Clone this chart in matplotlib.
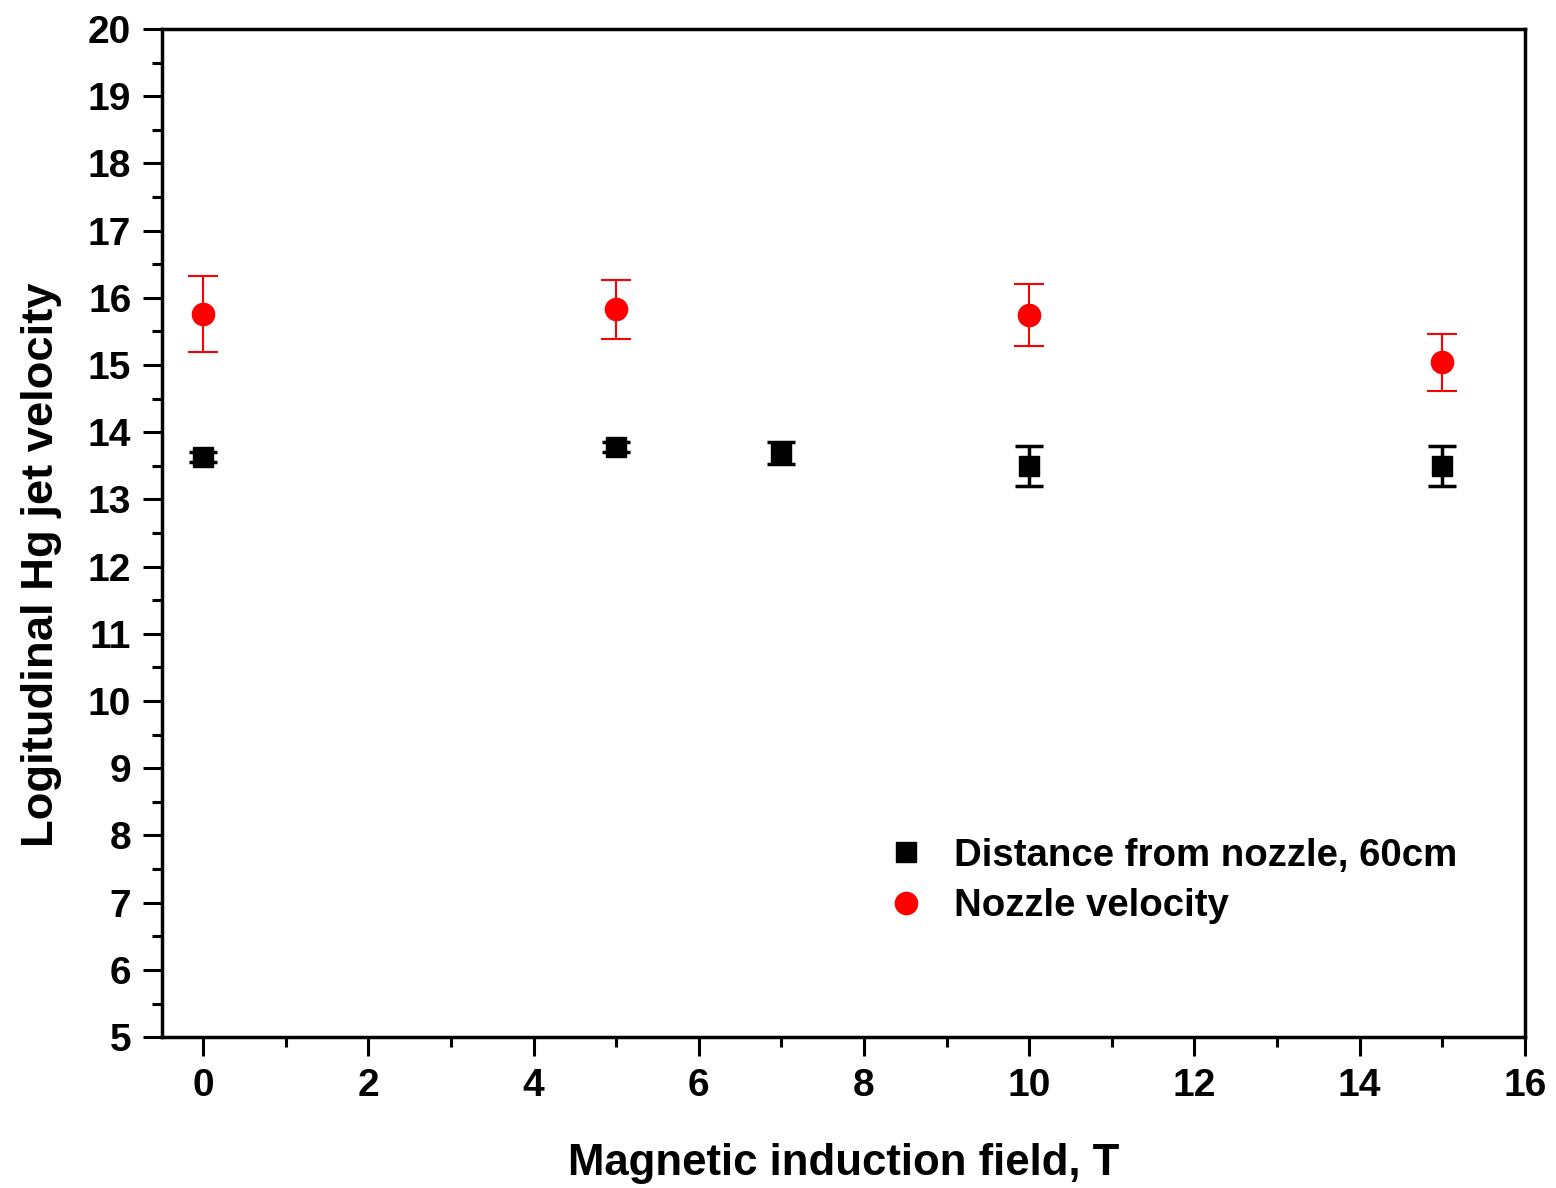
import matplotlib.pyplot as plt
from matplotlib.lines import Line2D
from matplotlib.ticker import MultipleLocator

# =====================================================
# DATA
# =====================================================

field_dist = [0, 5, 7, 10, 15]
vel_dist = [13.63, 13.78, 13.69, 13.50, 13.50]
err_dist = [0.08, 0.08, 0.16, 0.30, 0.30]

field_nozzle = [0, 5, 10, 15]
vel_nozzle = [15.76, 15.83, 15.74, 15.04]
err_nozzle = [0.57, 0.44, 0.46, 0.42]

# =====================================================
# PLOT
# =====================================================

plt.rcParams['font.family'] = ['Liberation Sans', 'DejaVu Sans']
plt.rcParams['font.weight'] = 'bold'

fig = plt.figure(figsize=(15.56, 11.88), dpi=100)
ax = fig.add_axes([0.104, 0.127, 0.876, 0.8486])

ax.errorbar(
    field_dist, vel_dist, yerr=err_dist,
    fmt='s', color='black', ms=15, capsize=10,
    elinewidth=2.5, capthick=2.5
)

ax.errorbar(
    field_nozzle, vel_nozzle, yerr=err_nozzle,
    fmt='o', color='#ff0000', ms=16, capsize=11,
    elinewidth=1.5, capthick=1.5
)

ax.set_xlim(-0.5, 16)
ax.set_ylim(5, 20)

ax.xaxis.set_major_locator(MultipleLocator(2))
ax.xaxis.set_minor_locator(MultipleLocator(1))
ax.yaxis.set_major_locator(MultipleLocator(1))
ax.yaxis.set_minor_locator(MultipleLocator(0.5))

ax.tick_params(which='major', direction='out', length=14, width=2.2,
               labelsize=28, pad=8)
ax.tick_params(which='minor', direction='out', length=7, width=2.2)

for s in ax.spines.values():
    s.set_linewidth(2.5)

ax.set_xlabel("Magnetic induction field, T", fontsize=31.5,
              fontweight='bold', labelpad=28)
ax.set_ylabel("Logitudinal Hg jet velocity", fontsize=32.7,
              fontweight='bold')
ax.yaxis.set_label_coords(-0.0735, 0.469)

handles = [
    Line2D([], [], ls='none', marker='s', color='black', ms=14),
    Line2D([], [], ls='none', marker='o', color='#ff0000', ms=16),
]
labels = ["Distance from nozzle, 60cm", "Nozzle velocity"]

ax.legend(
    handles, labels,
    loc='upper left', bbox_to_anchor=(0.515, 0.217),
    frameon=False, fontsize=27.6, borderpad=0,
    handletextpad=0.65, labelspacing=0.38, handlelength=1.2
)

fig.savefig("out.png", dpi=100)
